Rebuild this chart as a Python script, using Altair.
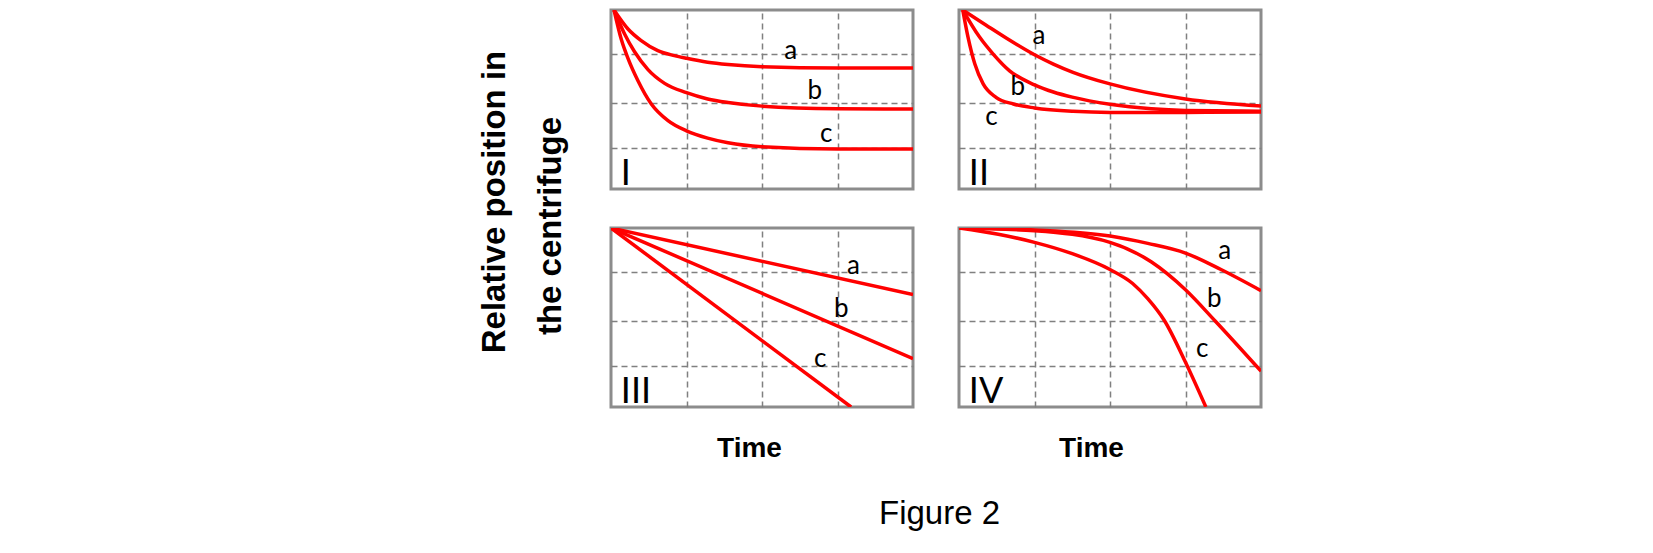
import altair as alt
import pandas as pd

RED = "#ff0000"
BORDER = "#8c8c8c"
GRID = "#808080"

# x runs over the four grid columns (0..4), y is the distance from the top (0..1)
# Panel I
p1_a_x = [0.04, 0.225, 0.40, 0.62, 0.84, 1.0, 1.28, 1.55, 2.0, 3.0, 4.0]
p1_a_y = [0, 0.106, 0.171, 0.227, 0.255, 0.27, 0.292, 0.305, 0.317, 0.324, 0.324]
p1_b_x = [0.04, 0.18, 0.31, 0.49, 0.71, 1.0, 1.28, 1.55, 2.0, 3.0, 4.0]
p1_b_y = [0, 0.134, 0.232, 0.333, 0.41, 0.462, 0.497, 0.517, 0.537, 0.551, 0.553]
p1_c_x = [0.04, 0.137, 0.225, 0.357, 0.534, 0.755, 1.0, 1.28, 1.55, 2.0, 3.0, 4.0]
p1_c_y = [0, 0.165, 0.27, 0.395, 0.525, 0.618, 0.675, 0.716, 0.742, 0.764, 0.777, 0.777]

# Panel II
p2_a_x = [0.05, 0.36, 0.63, 1.0, 1.25, 1.51, 2.0, 3.0, 4.0]
p2_a_y = [0, 0.085, 0.158, 0.25, 0.302, 0.348, 0.413, 0.497, 0.536]
p2_b_x = [0.05, 0.27, 0.45, 0.67, 1.0, 1.25, 1.5, 2.0, 2.55, 3.0, 4.0]
p2_b_y = [0, 0.15, 0.245, 0.34, 0.418, 0.458, 0.487, 0.527, 0.552, 0.561, 0.565]
p2_c_x = [0.05, 0.12, 0.21, 0.32, 0.49, 0.72, 1.0, 1.51, 2.0, 3.0, 4.0]
p2_c_y = [0, 0.153, 0.302, 0.413, 0.488, 0.525, 0.547, 0.566, 0.572, 0.572, 0.57]

# Panel III
p3_a_x = [0, 4.0]
p3_a_y = [0, 0.372]
p3_b_x = [0, 4.0]
p3_b_y = [0, 0.73]
p3_c_x = [0, 3.18]
p3_c_y = [0, 1.0]

# Panel IV
p4_a_x = [0, 1.0, 2.0, 2.5, 3.0, 3.47, 4.0]
p4_a_y = [0, 0.011, 0.045, 0.086, 0.14, 0.232, 0.35]
p4_b_x = [0, 1.0, 2.0, 2.55, 3.0, 3.39, 4.0]
p4_b_y = [0, 0.015, 0.08, 0.19, 0.345, 0.518, 0.8]
p4_c_x = [0, 0.52, 1.0, 1.49, 2.0, 2.3, 2.5, 2.72, 3.0, 3.27]
p4_c_y = [0, 0.035, 0.08, 0.142, 0.232, 0.31, 0.395, 0.517, 0.75, 1.0]

# curve letters
letters = ["a", "b", "c"]
p1_lab_x = [2.38, 2.70, 2.85]
p1_lab_y = [0.227, 0.453, 0.693]
p2_lab_x = [1.06, 0.78, 0.43]
p2_lab_y = [0.144, 0.432, 0.60]
p3_lab_x = [3.21, 3.05, 2.77]
p3_lab_y = [0.21, 0.453, 0.732]
p4_lab_x = [3.52, 3.38, 3.22]
p4_lab_y = [0.127, 0.397, 0.676]

grid_x = [1, 2, 3]
grid_y = [0.247, 0.52, 0.77]


def panel(curves, lab_x, lab_y, numeral, bottom, time_x=0):
    rows = []
    for name, (xs, ys) in curves.items():
        rows += [{"curve": name, "x": x, "y": y} for x, y in zip(xs, ys)]
    lines_df = pd.DataFrame(rows)

    if bottom:
        x_axis = alt.Axis(values=grid_x, labels=False, ticks=False, domain=False,
                          title="Time", titleX=time_x, titlePadding=27)
    else:
        x_axis = alt.Axis(values=grid_x, labels=False, ticks=False, domain=False, title=None)
    y_axis = alt.Axis(values=grid_y, labels=False, ticks=False, domain=False, title=None)

    xs = alt.Scale(domain=[0, 4], nice=False, zero=False)
    ys = alt.Scale(domain=[0, 1], nice=False, reverse=True)

    lines = alt.Chart(lines_df).mark_line(
        color=RED, strokeWidth=3.5, interpolate="monotone", clip=True
    ).encode(
        x=alt.X("x:Q", scale=xs, axis=x_axis),
        y=alt.Y("y:Q", scale=ys, axis=y_axis),
        detail="curve:N",
    )

    labs = alt.Chart(pd.DataFrame({"x": lab_x, "y": lab_y, "t": letters})).mark_text(
        font="Lato", fontSize=26, color="black"
    ).encode(x=alt.X("x:Q", scale=xs), y=alt.Y("y:Q", scale=ys), text="t:N")

    num = alt.Chart(pd.DataFrame({"x": [0.13], "y": [0.975], "t": [numeral]})).mark_text(
        font="Lato", fontSize=36, color="black", align="left", baseline="alphabetic"
    ).encode(x=alt.X("x:Q", scale=xs), y=alt.Y("y:Q", scale=ys), text="t:N")

    return alt.layer(lines, labs, num).properties(width=302, height=179)


c1 = panel({"a": (p1_a_x, p1_a_y), "b": (p1_b_x, p1_b_y), "c": (p1_c_x, p1_c_y)},
           p1_lab_x, p1_lab_y, "I", False)
c2 = panel({"a": (p2_a_x, p2_a_y), "b": (p2_b_x, p2_b_y), "c": (p2_c_x, p2_c_y)},
           p2_lab_x, p2_lab_y, "II", False)
c3 = panel({"a": (p3_a_x, p3_a_y), "b": (p3_b_x, p3_b_y), "c": (p3_c_x, p3_c_y)},
           p3_lab_x, p3_lab_y, "III", True, 138)
c4 = panel({"a": (p4_a_x, p4_a_y), "b": (p4_b_x, p4_b_y), "c": (p4_c_x, p4_c_y)},
           p4_lab_x, p4_lab_y, "IV", True, 132)

ytitle_font = dict(font="Liberation Sans", fontSize=33, fontWeight="bold", color="black",
                   anchor="middle")

grid = alt.vconcat(
    alt.hconcat(c1, c2, spacing=42),
    alt.hconcat(c3, c4, spacing=42),
    spacing=32,
).properties(title=alt.TitleParams("the centrifuge", orient="left", offset=42, dx=10, **ytitle_font))

mid = alt.vconcat(grid).properties(
    title=alt.TitleParams("Relative position in", orient="left", offset=23, dx=34, **ytitle_font)
)

chart = alt.vconcat(mid).properties(
    title=alt.TitleParams("Figure 2", orient="bottom", anchor="middle", offset=34, dx=69,
                          font="Liberation Sans", fontSize=33, fontWeight="normal", color="black"),
    padding={"left": 470, "top": 0, "right": 0, "bottom": 0},
).configure_view(
    stroke=BORDER, strokeWidth=3
).configure_axis(
    grid=True, gridColor=GRID, gridDash=[6, 4], gridWidth=1.5, minExtent=0,
    titleFont="Liberation Sans", titleFontSize=28, titleFontWeight="bold", titleColor="black",
)

chart.save("out.html", embed_options={"renderer": "svg", "actions": False})
